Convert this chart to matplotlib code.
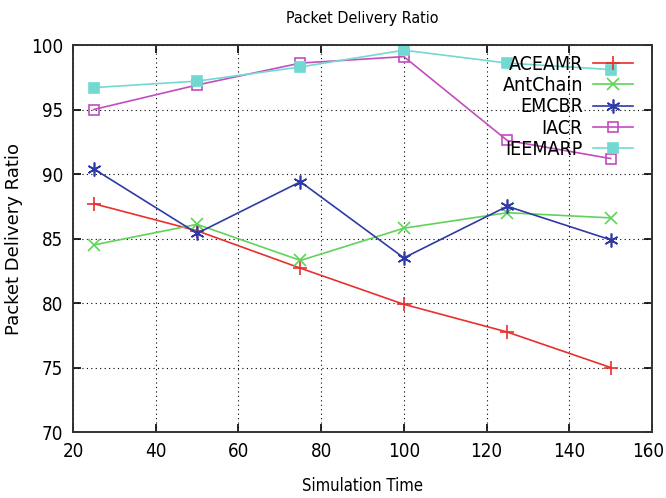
import matplotlib
matplotlib.use("Agg")
import matplotlib.pyplot as plt
import matplotlib.transforms as mtransforms
from matplotlib import font_manager

# data
sim_time = [25, 50, 75, 100, 125, 150]
aceamr = [87.7, 85.6, 82.7, 79.9, 77.75, 75.0]
antchain = [84.5, 86.1, 83.3, 85.8, 87.0, 86.6]
emcbr = [90.4, 85.4, 89.4, 83.5, 87.5, 84.9]
iacr = [95.0, 96.9, 98.6, 99.1, 92.6, 91.2]
ieemarp = [96.7, 97.2, 98.3, 99.6, 98.6, 98.1]

x_ticks = [20, 40, 60, 80, 100, 120, 140, 160]
y_ticks = [70, 75, 80, 85, 90, 95, 100]

names = {f.name for f in font_manager.fontManager.ttflist}
if "Liberation Sans Narrow" in names:
    plt.rcParams["font.family"] = "Liberation Sans Narrow"
else:
    plt.rcParams["font.family"] = "DejaVu Sans"
    plt.rcParams["font.stretch"] = "condensed"

fig = plt.figure(figsize=(6.66, 4.98), dpi=100)
ax = fig.add_axes([0.1096, 0.1325, 0.8694, 0.7771])

series = [
    ("ACEAMR", aceamr, "#e8302c", "+", "none", 10),
    ("AntChain", antchain, "#5fd35a", "x", "none", 8),
    ("EMCBR", emcbr, "#2f3aa6", (6, 2, 0), "none", 10),
    ("IACR", iacr, "#c24dbf", "s", "none", 7),
    ("IEEMARP", ieemarp, "#72d9d2", "s", "#72d9d2", 7),
]
for label, vals, color, marker, face, ms in series:
    ax.plot(sim_time, vals, color=color, lw=1.2, marker=marker, ms=ms,
            mfc=face, mec=color, mew=1.2, label=label)

ax.set_xlim(20, 160)
ax.set_ylim(70, 100)
ax.set_xticks(x_ticks)
ax.set_yticks(y_ticks)
ax.grid(True, color="black", linestyle=(0, (1, 3)), lw=0.8)
ax.tick_params(direction="in", top=True, right=True, length=6, width=1.2,
               labelsize=13.5, pad=7)
for sp in ax.spines.values():
    sp.set_linewidth(1.4)
    sp.set_color("#333333")

# keep "160" inside the canvas edge
last = ax.get_xticklabels()[-1]
last.set_transform(last.get_transform()
                   + mtransforms.ScaledTranslation(-4 / 100, 0, fig.dpi_scale_trans))

ax.set_xlabel("Simulation Time", fontsize=12, labelpad=12)
ax.set_ylabel("Packet Delivery Ratio", fontsize=13, labelpad=6,
              family="DejaVu Sans", stretch="normal")
ax.set_title("Packet Delivery Ratio", fontsize=11.5, pad=16)

leg = ax.legend(loc="upper right", frameon=False, markerfirst=False,
                prop={"size": 14}, handlelength=2.1, handletextpad=0.5,
                labelspacing=0.12, borderpad=0, borderaxespad=0,
                bbox_to_anchor=(0.968, 0.975))
for t in leg.get_texts():
    t.set_ha("right")
leg._legend_box.align = "right"

fig.savefig("out.png", dpi=100)
